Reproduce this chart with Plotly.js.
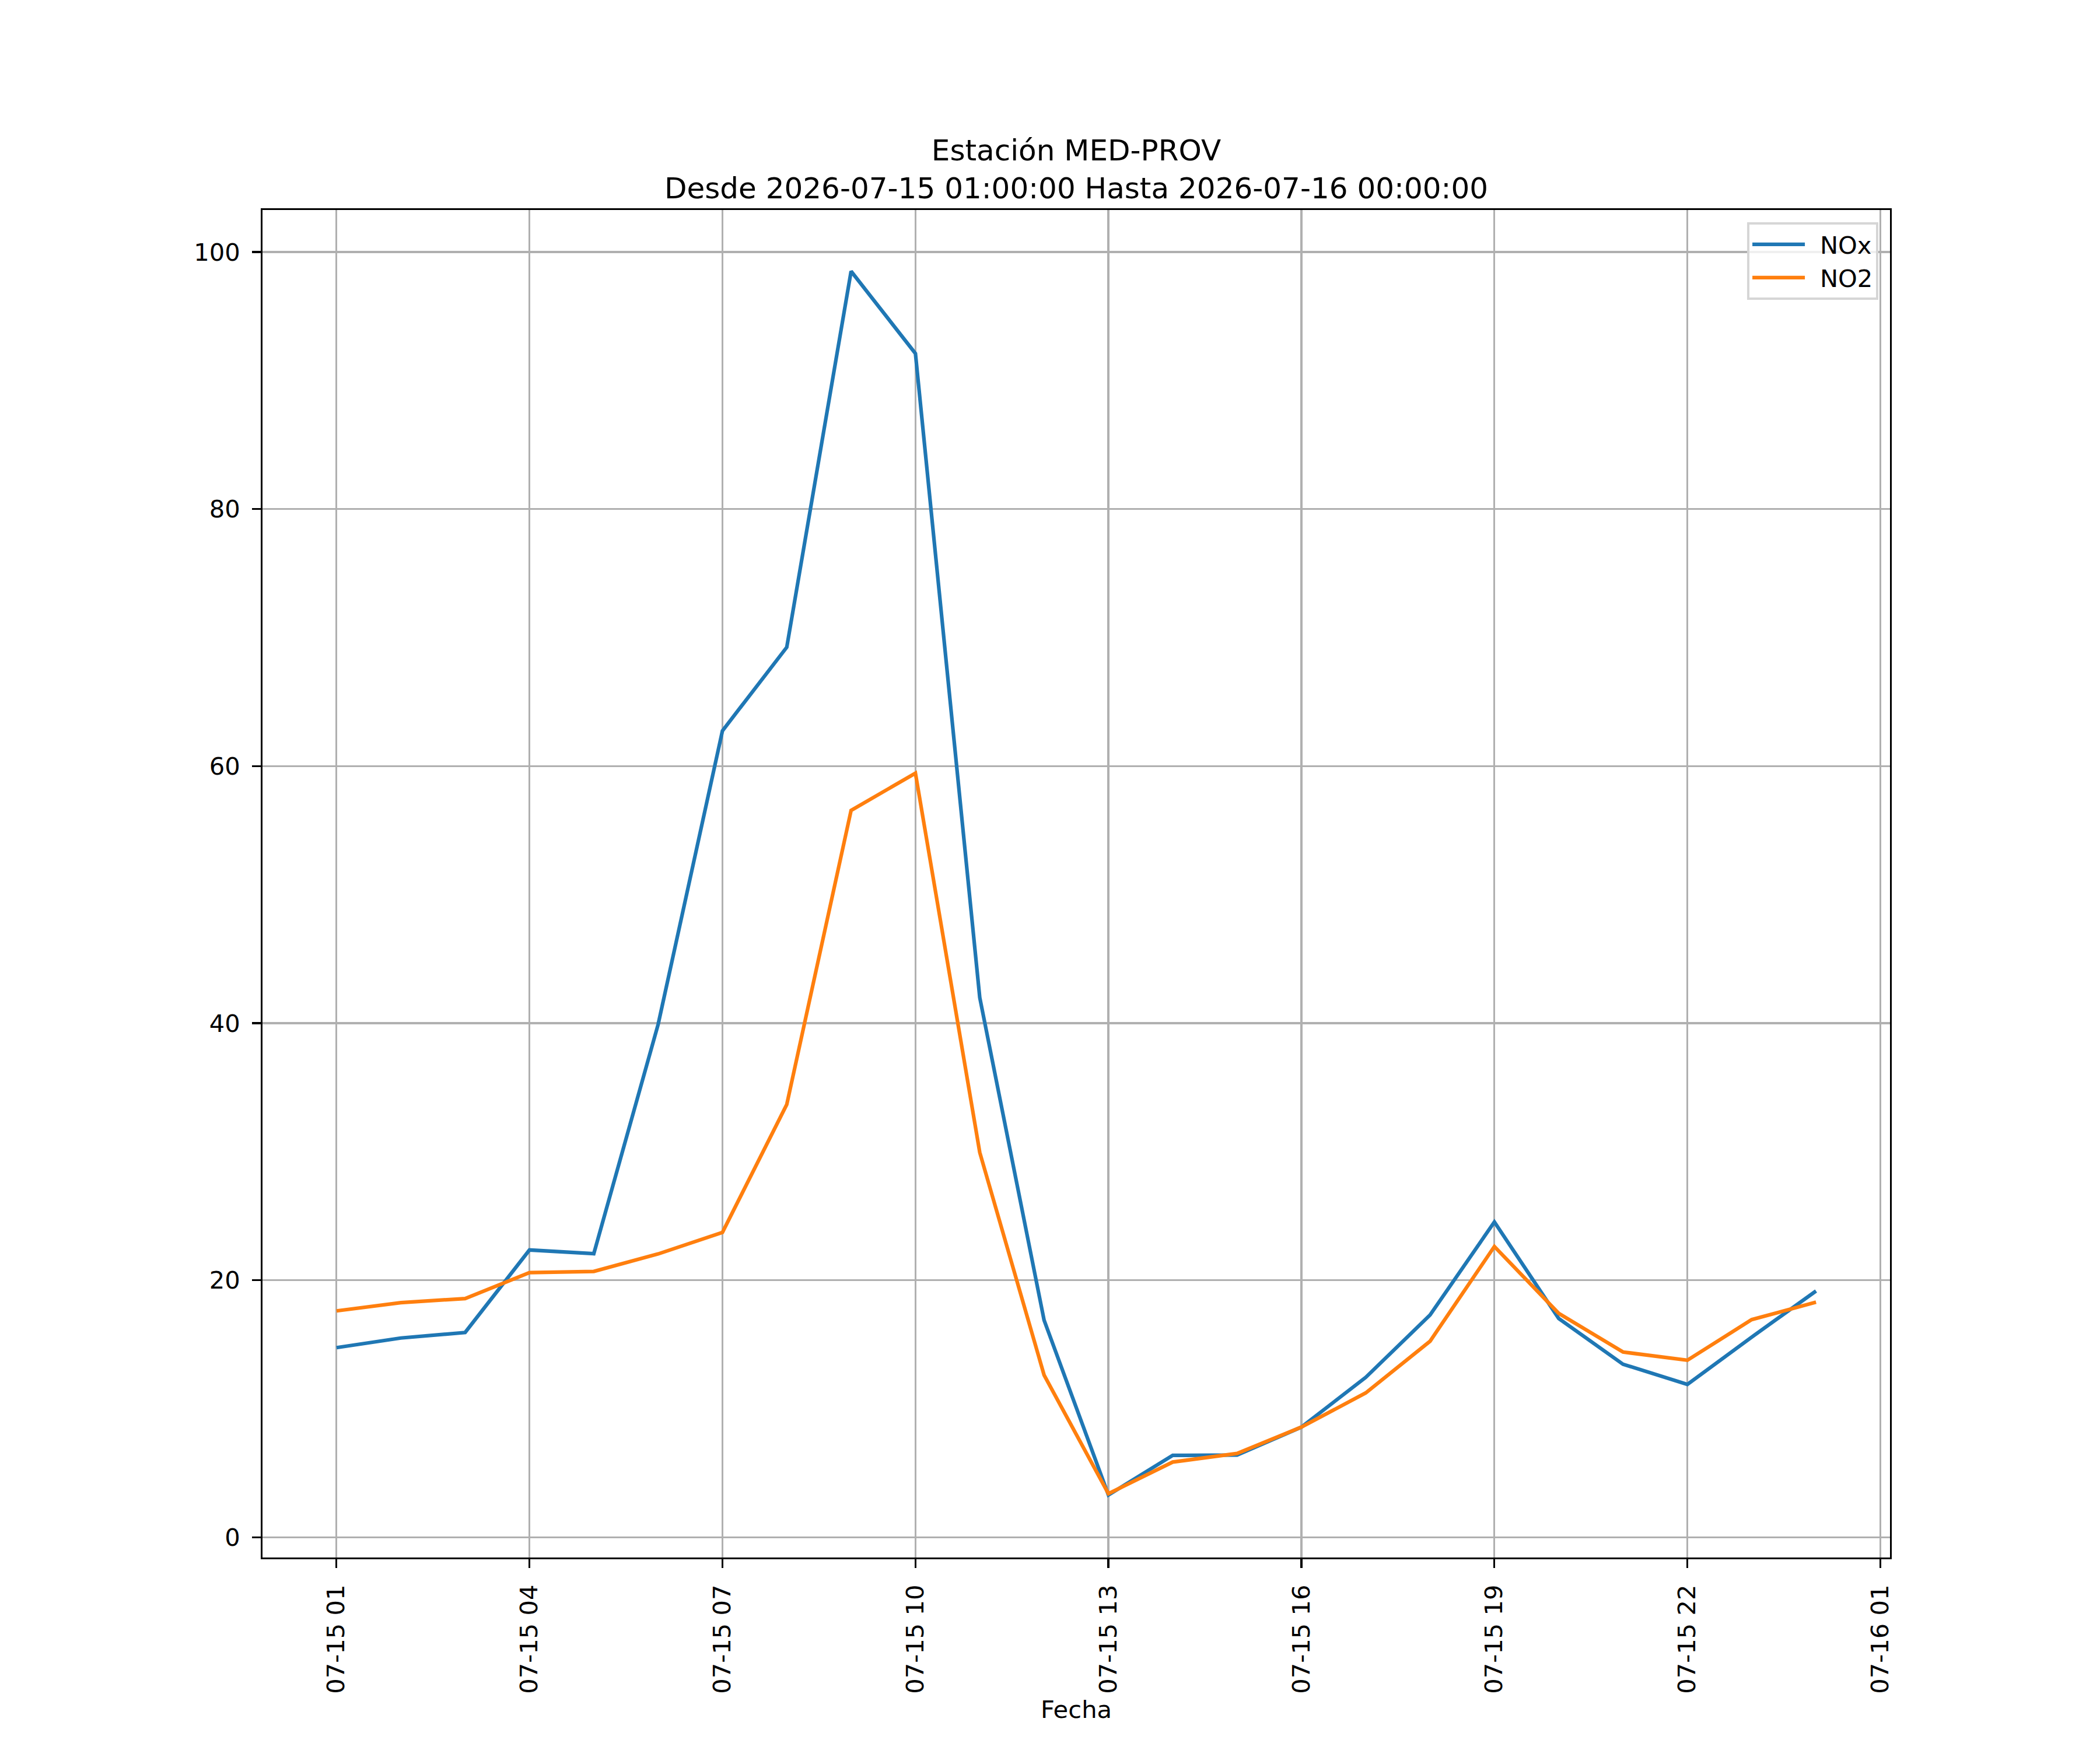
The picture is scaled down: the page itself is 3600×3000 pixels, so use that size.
<!DOCTYPE html>
<html>
<head>
<meta charset="utf-8">
<script src="https://cdn.plot.ly/plotly-3.0.1.min.js"></script>
<style>
  html, body { margin: 0; padding: 0; background: #ffffff; }
  #chart { width: 3600px; height: 3000px; }
</style>
</head>
<body>
<div id="chart"></div>
<script>
// ---- data ----
const fechas = [
  "2026-07-15 01:00:00", "2026-07-15 02:00:00", "2026-07-15 03:00:00", "2026-07-15 04:00:00",
  "2026-07-15 05:00:00", "2026-07-15 06:00:00", "2026-07-15 07:00:00", "2026-07-15 08:00:00",
  "2026-07-15 09:00:00", "2026-07-15 10:00:00", "2026-07-15 11:00:00", "2026-07-15 12:00:00",
  "2026-07-15 13:00:00", "2026-07-15 14:00:00", "2026-07-15 15:00:00", "2026-07-15 16:00:00",
  "2026-07-15 17:00:00", "2026-07-15 18:00:00", "2026-07-15 19:00:00", "2026-07-15 20:00:00",
  "2026-07-15 21:00:00", "2026-07-15 22:00:00", "2026-07-15 23:00:00", "2026-07-16 00:00:00"
];
const nox = [14.76, 15.51, 15.94, 22.36, 22.07, 39.9, 62.75, 69.25, 98.5, 92.1, 42.0, 16.9,
             3.3, 6.38, 6.41, 8.58, 12.45, 17.3, 24.54, 17.03, 13.47, 11.9, 15.58, 19.17];
const no2 = [17.62, 18.26, 18.58, 20.6, 20.69, 22.05, 23.73, 33.68, 56.56, 59.45, 29.95, 12.63,
             3.4, 5.86, 6.53, 8.58, 11.24, 15.26, 22.63, 17.43, 14.42, 13.78, 16.94, 18.3];
const seriesNames = ["NOx", "NO2"];
const titleText = "Estación MED-PROV<br>Desde 2026-07-15 01:00:00 Hasta 2026-07-16 00:00:00";
const xLabel = "Fecha";
const xRange = ["2026-07-14 23:51:00", "2026-07-16 01:09:00"];
const yRange = [-1.565, 103.265];

const FONT = "DejaVu Sans, Liberation Sans, sans-serif";
const PT = 300 / 72; // px per point at 300 dpi
const GAP = "\u2002"; // visual gap between legend line sample and label

const traces = [
  { x: fechas, y: nox, name: GAP + seriesNames[0], type: "scatter", mode: "lines",
    line: { color: "#1f77b4", width: 1.5 * PT } },
  { x: fechas, y: no2, name: GAP + seriesNames[1], type: "scatter", mode: "lines",
    line: { color: "#ff7f0e", width: 1.5 * PT } }
];

const axisCommon = {
  showline: true, linecolor: "#000000", linewidth: 0.8 * PT, mirror: true,
  ticks: "outside", ticklen: 3.5 * PT, tickwidth: 0.8 * PT, tickcolor: "#000000",
  showgrid: true, gridcolor: "#b0b0b0", gridwidth: 0.8 * PT,
  zeroline: false,
  tickfont: { family: FONT, size: 10 * PT, color: "#000000" }
};

const layout = {
  width: 3600, height: 3000,
  paper_bgcolor: "#ffffff", plot_bgcolor: "#ffffff",
  margin: { l: 450, r: 360, t: 360, b: 330, pad: 0 },
  showlegend: true,
  title: {
    text: titleText,
    font: { family: FONT, size: 12 * PT, color: "#000000" },
    xref: "paper", x: 0.5, xanchor: "center",
    yref: "paper", y: 1, yanchor: "bottom",
    pad: { b: 85 }
  },
  xaxis: Object.assign({}, axisCommon, {
    type: "date",
    range: xRange,
    tickmode: "linear",
    tick0: "2026-07-15 01:00:00",
    dtick: 3 * 3600 * 1000,
    tickformat: "%m-%d %H",
    tickangle: -90,
    ticklabelstandoff: 12,
    title: { text: xLabel, font: { family: FONT, size: 10 * PT, color: "#000000" }, standoff: 14 },
    automargin: false
  }),
  yaxis: Object.assign({}, axisCommon, {
    range: yRange,
    tickmode: "linear", tick0: 0, dtick: 20,
    ticklabelstandoff: 12,
    automargin: false
  }),
  legend: {
    x: 0.9928, xanchor: "right", xref: "paper",
    y: 0.9909, yanchor: "top", yref: "paper",
    bgcolor: "rgba(255,255,255,0.8)",
    bordercolor: "#d6d6d6", borderwidth: 1.0 * PT,
    font: { family: FONT, size: 10 * PT, color: "#000000" },
    itemwidth: 90,
    tracegroupgap: 0
  }
};

Plotly.newPlot("chart", traces, layout, { displayModeBar: false, staticPlot: true });
</script>
</body>
</html>
